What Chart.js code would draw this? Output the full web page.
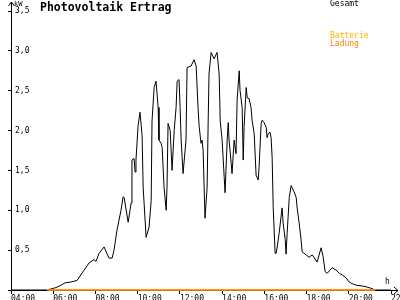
<!DOCTYPE html>
<html>
<head>
<meta charset="utf-8">
<script src="https://cdn.jsdelivr.net/npm/chart.js@4.4.0/dist/chart.umd.min.js"></script>
<style>
    body { margin: 0; background: #fff; }
    #wrap { position: relative; width: 400px; height: 300px; font-family: 'DejaVu Sans Mono', monospace; }
    #wrap canvas { position: absolute; left: 0; top: 0; }
    .lbl { position: absolute; white-space: nowrap; line-height: 1; }
    #title { left: 40px; top: 2px; font-size: 11.5px; font-weight: bold; color: #000; }
    #unit-y { left: 14px; top: 1px; font-size: 7px; color: #000; }
    #unit-x { left: 385px; top: 278px; font-size: 8px; color: #000; }
    #leg-gesamt { left: 330px; top: 0px; font-size: 8px; color: #000; }
    #leg-batterie { left: 330px; top: 32px; font-size: 8px; color: #ffb000; }
    #leg-ladung { left: 330px; top: 40px; font-size: 8px; color: #ff8000; }
</style>
</head>
<body>
<div id="wrap">
    <canvas id="pvChart" width="400" height="300"></canvas>
    <div class="lbl" id="title">Photovoltaik Ertrag</div>
    <div class="lbl" id="unit-y">kW</div>
    <div class="lbl" id="unit-x">h</div>
    <div class="lbl" id="leg-gesamt">Gesamt</div>
    <div class="lbl" id="leg-batterie">Batterie</div>
    <div class="lbl" id="leg-ladung">Ladung</div>
</div>
<script>
// time of day in hours
const gesamtHours = [
    4.00, 5.71, 6.13, 6.37, 6.56, 6.84, 7.13, 7.36, 7.70, 7.93, 8.03, 8.17, 8.41, 8.64, 8.79, 8.88,
    9.02, 9.21, 9.31, 9.36, 9.55, 9.69, 9.73, 9.83, 9.88, 9.92, 10.02, 10.11, 10.21, 10.26, 10.40, 10.54,
    10.64, 10.68, 10.78, 10.87, 10.97, 11.01, 11.11, 11.16, 11.25, 11.35, 11.39, 11.44, 11.54, 11.63, 11.73, 11.82,
    11.87, 11.96, 12.01, 12.06, 12.15, 12.29, 12.34, 12.53, 12.67, 12.77, 12.86, 12.91, 13.00, 13.05, 13.10, 13.19,
    13.29, 13.34, 13.38, 13.48, 13.62, 13.76, 13.86, 13.91, 14.00, 14.10, 14.14, 14.24, 14.29, 14.33, 14.43, 14.47,
    14.57, 14.66, 14.71, 14.81, 14.85, 14.95, 15.00, 15.04, 15.14, 15.19, 15.28, 15.37, 15.42, 15.52, 15.61, 15.71,
    15.75, 15.85, 15.90, 15.99, 16.09, 16.13, 16.18, 16.27, 16.32, 16.37, 16.42, 16.51, 16.56, 16.61, 16.70, 16.84,
    16.89, 16.99, 17.03, 17.08, 17.18, 17.27, 17.41, 17.51, 17.55, 17.65, 17.74, 17.79, 17.98, 18.12, 18.27, 18.50,
    18.69, 18.79, 18.88, 18.98, 19.21, 19.40, 19.55, 19.69, 19.88, 20.02, 20.16, 20.35, 20.64, 20.82, 20.97, 21.25,
    22.00
]
// kW
const gesamtValues = [
    0, 0, 0.03, 0.06, 0.09, 0.10, 0.12, 0.21, 0.34, 0.38, 0.36, 0.46, 0.54, 0.40, 0.40, 0.50,
    0.75, 1.00, 1.17, 1.16, 0.85, 1.09, 1.63, 1.65, 1.48, 1.63, 2.06, 2.23, 1.94, 1.29, 0.66, 0.79,
    1.12, 2.12, 2.54, 2.62, 2.29, 1.88, 1.84, 1.79, 1.29, 1.00, 1.29, 2.09, 2.00, 1.50, 2.00, 2.29,
    2.62, 2.64, 2.29, 1.88, 1.46, 1.88, 2.79, 2.81, 2.89, 2.81, 2.29, 2.06, 1.84, 1.88, 1.75, 0.90,
    1.29, 2.12, 2.71, 2.98, 2.90, 2.98, 2.71, 2.12, 1.88, 1.41, 1.22, 1.88, 2.10, 1.88, 1.59, 1.46,
    1.88, 1.71, 2.38, 2.75, 2.50, 2.29, 1.63, 2.04, 2.54, 2.41, 2.40, 2.29, 2.13, 1.96, 1.44, 1.38,
    1.54, 2.09, 2.13, 2.10, 2.04, 1.91, 1.96, 1.98, 1.91, 1.66, 1.04, 0.46, 0.46, 0.54, 0.71, 1.03,
    0.84, 0.63, 0.45, 0.71, 1.16, 1.31, 1.23, 1.16, 1.04, 0.84, 0.63, 0.48, 0.44, 0.41, 0.44, 0.35,
    0.53, 0.41, 0.23, 0.21, 0.28, 0.25, 0.21, 0.19, 0.15, 0.10, 0.08, 0.06, 0.05, 0.04, 0.03, 0,
    0
]
const batterieHours = [5.71, 21.25]
const batterieValues = [0, 0]
const ladungHours = [5.71, 21.25]
const ladungValues = [0, 0]

const hourLabels = ['04:00', '06:00', '08:00', '10:00', '12:00', '14:00', '16:00', '18:00', '20:00', '22:00']
const kwLabels = ['', '0,5', '1,0', '1,5', '2,0', '2,5', '3,0', '3,5']

function toPoints(hours, values) {
    return hours.map((h, i) => ({ x: h, y: values[i] }))
}

// axis arrows beyond the plot area
const axisArrows = {
    id: 'axisArrows',
    beforeDatasetsDraw(chart) {
        const { ctx, chartArea } = chart
        const x0 = Math.round(chartArea.left) + 0.5
        const y0 = Math.round(chartArea.bottom) + 0.5
        ctx.save()
        ctx.strokeStyle = '#000'
        ctx.lineWidth = 1
        ctx.beginPath()
        ctx.moveTo(x0, chartArea.bottom + 1)
        ctx.lineTo(x0, 2)
        ctx.moveTo(x0 - 3, 6)
        ctx.lineTo(x0, 2)
        ctx.lineTo(x0 + 3, 6)
        ctx.moveTo(x0, y0)
        ctx.lineTo(398, y0)
        ctx.moveTo(394, y0 - 3.5)
        ctx.lineTo(398, y0)
        ctx.lineTo(394, y0 + 3.5)
        ctx.stroke()
        ctx.restore()
    }
}

const tickFont = { family: 'DejaVu Sans Mono', size: 8 }

new Chart(document.getElementById('pvChart'), {
    type: 'line',
    data: {
        datasets: [
            {
                label: 'Ladung',
                data: toPoints(ladungHours, ladungValues),
                borderColor: '#ff8000',
                borderWidth: 1.5,
                pointRadius: 0,
                clip: false,
                order: 0
            },
            {
                label: 'Batterie',
                data: toPoints(batterieHours, batterieValues),
                borderColor: '#ffb000',
                borderWidth: 1,
                pointRadius: 0,
                clip: false,
                order: 1
            },
            {
                label: 'Gesamt',
                data: toPoints(gesamtHours, gesamtValues),
                borderColor: '#000',
                borderWidth: 1,
                pointRadius: 0,
                tension: 0,
                clip: false,
                order: 2
            }
        ]
    },
    options: {
        responsive: false,
        animation: false,
        layout: { padding: { left: 11, right: 9, top: 11, bottom: 0 } },
        plugins: {
            legend: { display: false },
            title: { display: false },
            tooltip: { enabled: false }
        },
        scales: {
            x: {
                type: 'linear',
                min: 4,
                max: 22,
                afterFit: (s) => { s.height = 10; s.paddingLeft = 0; s.paddingRight = 0 },
                ticks: {
                    stepSize: 2,
                    align: 'start',
                    padding: 0,
                    color: '#000',
                    font: tickFont,
                    maxRotation: 0,
                    autoSkip: false,
                    callback: (v, i) => hourLabels[i]
                },
                grid: { drawOnChartArea: false, drawTicks: true, tickLength: 4, color: '#000' },
                border: { display: false }
            },
            y: {
                min: 0,
                max: 3.5,
                afterFit: (s) => { s.width = 0 },
                ticks: {
                    stepSize: 0.5,
                    mirror: true,
                    padding: 4,
                    color: '#000',
                    font: tickFont,
                    callback: (v, i) => kwLabels[i]
                },
                grid: { drawOnChartArea: false, drawTicks: true, tickLength: 3, color: '#000' },
                border: { display: false }
            }
        }
    },
    plugins: [axisArrows]
})
</script>
</body>
</html>
